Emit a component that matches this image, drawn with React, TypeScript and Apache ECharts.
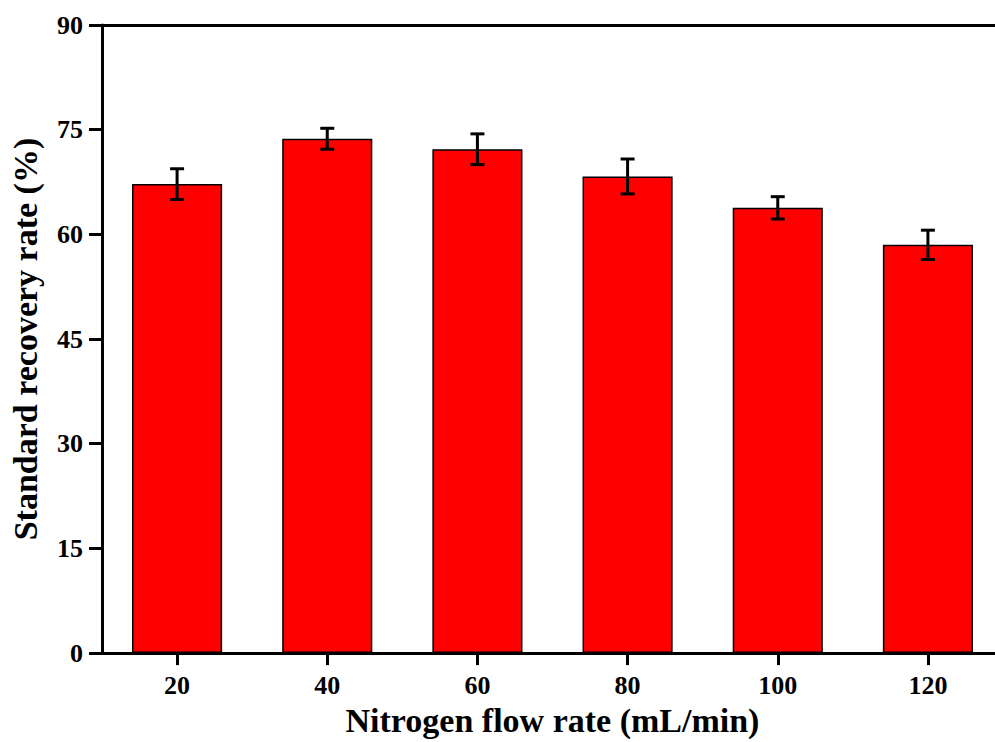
import React, { useEffect, useRef } from "react";
import * as echarts from "echarts";

const categories = ["20", "40", "60", "80", "100", "120"];
const recovery = [67.2, 73.7, 72.2, 68.3, 63.8, 58.5];
const errors = [2.2, 1.5, 2.2, 2.5, 1.6, 2.1];
const yTicks = { min: 0, max: 90, interval: 15 };

const FONT = '"Times New Roman", "Liberation Serif", serif';

export default function App() {
  const ref = useRef<HTMLDivElement>(null);
  useEffect(() => {
    if (!ref.current) return;
    const chart = echarts.init(ref.current, null, { renderer: "svg" });
    const errData = categories.map((_, i) => [i, recovery[i], errors[i]]);
    chart.setOption({
      animation: false,
      backgroundColor: "#ffffff",
      grid: { left: 102, top: 25, right: 0, bottom: 86, containLabel: false },
      xAxis: [
        {
          type: "category",
          data: categories,
          position: "bottom",
          boundaryGap: true,
          name: "Nitrogen flow rate (mL/min)",
          nameLocation: "middle",
          nameGap: 46,
          nameTextStyle: { fontFamily: FONT, fontWeight: "bold", fontSize: 34, color: "#000" },
          axisLine: { show: true, onZero: false, lineStyle: { color: "#000", width: 3 } },
          axisTick: { show: true, alignWithLabel: true, length: 12, inside: false, lineStyle: { color: "#000", width: 3 } },
          axisLabel: { fontFamily: FONT, fontWeight: "bold", fontSize: 26, color: "#000", margin: 19 },
          splitLine: { show: false },
        },
        {
          type: "category",
          data: categories,
          position: "top",
          axisLine: { show: true, onZero: false, lineStyle: { color: "#000", width: 3 } },
          axisTick: { show: false },
          axisLabel: { show: false },
          splitLine: { show: false },
        },
      ],
      yAxis: {
        type: "value",
        min: yTicks.min,
        max: yTicks.max,
        interval: yTicks.interval,
        name: "Standard recovery rate (%)",
        nameLocation: "middle",
        nameGap: 60,
        nameTextStyle: { fontFamily: FONT, fontWeight: "bold", fontSize: 34, color: "#000" },
        axisLine: { show: true, lineStyle: { color: "#000", width: 3 } },
        axisTick: { show: true, length: 13, inside: false, lineStyle: { color: "#000", width: 3 } },
        axisLabel: { fontFamily: FONT, fontWeight: "bold", fontSize: 26, color: "#000", margin: 19 },
        splitLine: { show: false },
      },
      series: [
        {
          type: "bar",
          data: recovery,
          barWidth: "60%",
          itemStyle: { color: "#ff0000", borderColor: "#000", borderWidth: 1.5 },
          z: 2,
        },
        {
          type: "custom",
          data: errData,
          encode: { x: 0, y: 1 },
          z: 5,
          renderItem: (params: any, api: any) => {
            const i = api.value(0);
            const v = api.value(1);
            const e = api.value(2);
            const top = api.coord([i, v + e]);
            const bot = api.coord([i, v - e]);
            const hw = 7;
            const style = { stroke: "#000", lineWidth: 3 };
            return {
              type: "group",
              children: [
                { type: "line", shape: { x1: top[0], y1: top[1], x2: bot[0], y2: bot[1] }, style },
                { type: "line", shape: { x1: top[0] - hw, y1: top[1], x2: top[0] + hw, y2: top[1] }, style },
                { type: "line", shape: { x1: bot[0] - hw, y1: bot[1], x2: bot[0] + hw, y2: bot[1] }, style },
              ],
            };
          },
        },
      ],
    });
    return () => chart.dispose();
  }, []);
  return (
    <div style={{ position: "fixed", left: 0, top: 0, width: 995, height: 742, overflow: "hidden", background: "#fff" }}>
      <div ref={ref} style={{ width: 1003, height: 742 }} />
    </div>
  );
}
